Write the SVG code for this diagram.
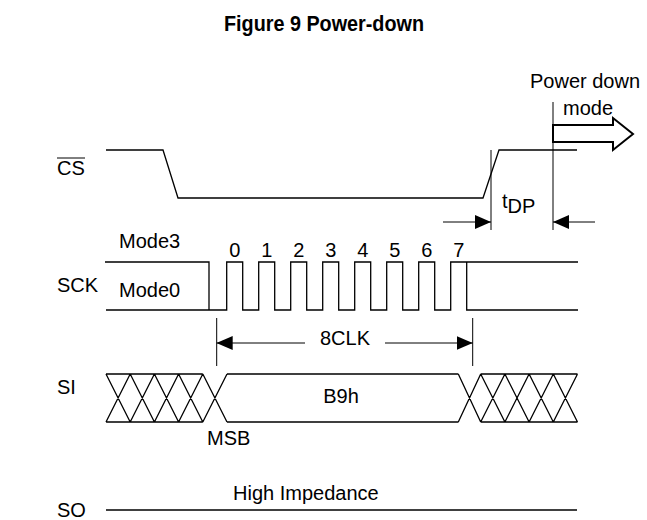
<svg xmlns="http://www.w3.org/2000/svg" width="647" height="520" viewBox="0 0 647 520">
<style>
text{font-family:"Liberation Sans",Arial,sans-serif;font-size:20px;fill:#000}
.w{fill:none;stroke:#000;stroke-width:1.3}
.thin{fill:none;stroke:#000;stroke-width:1}
.title{font-weight:bold;font-size:22px}
</style>
<defs>
<marker id="ah" viewBox="0 0 16 14" refX="16" refY="7" markerWidth="16" markerHeight="14" markerUnits="userSpaceOnUse" orient="auto">
<path d="M0,0 L16,7 L0,14 Z" fill="#000"/>
</marker>
</defs>
<rect width="647" height="520" fill="#fff"/>
<text class="title" x="224" y="31" textLength="200" lengthAdjust="spacingAndGlyphs">Figure 9 Power-down</text>

<g id="labels">
<text x="57" y="175">CS</text>
<line x1="57" y1="158" x2="85" y2="158" class="thin"/>
<text x="57" y="292">SCK</text>
<text x="57" y="394">SI</text>
<text x="57" y="517">SO</text>
</g>

<g id="cs">
<path class="w" d="M106,150 H163 L178,198 H483 L499,150 H577"/>
</g>

<g id="sck">
<path class="w" d="M105,262 H209 V310 M106,310 H226.7 V262 H242.7 V310 H258.7 V262 H274.7 V310 H290.7 V262 H306.7 V310 H322.7 V262 H338.7 V310 H354.7 V262 H370.7 V310 H386.7 V262 H402.7 V310 H418.7 V262 H434.7 V310 H450.7 V262 H466.7 V310 H578 M466.7,262 H578"/>
<text x="119" y="248">Mode3</text>
<text x="119" y="297">Mode0</text>
<g text-anchor="middle" style="font-size:18px">
<text x="234.7" y="257">0</text>
<text x="266.7" y="257">1</text>
<text x="298.7" y="257">2</text>
<text x="330.7" y="257">3</text>
<text x="362.7" y="257">4</text>
<text x="394.7" y="257">5</text>
<text x="426.7" y="257">6</text>
<text x="458.7" y="257">7</text>
</g>
</g>

<g id="si">
<path class="w" d="M106,374 H202.8 M106,422 H202.8
M106,374 L130.2,422 M106,422 L130.2,374
M130.2,374 L154.4,422 M130.2,422 L154.4,374
M154.4,374 L178.6,422 M154.4,422 L178.6,374
M178.6,374 L202.8,422 M178.6,422 L202.8,374
M202.8,374 L227,422 M202.8,422 L227,374
M227,374 H458.3 M227,422 H458.3
M458.3,374 L480.7,422 M458.3,422 L480.7,374
M480.7,374 H577.5 M480.7,422 H577.5
M480.7,374 L504.9,422 M480.7,422 L504.9,374
M504.9,374 L529.1,422 M504.9,422 L529.1,374
M529.1,374 L553.3,422 M529.1,422 L553.3,374
M553.3,374 L577.5,422 M553.3,422 L577.5,374"/>
<text x="341" y="403" text-anchor="middle">B9h</text>
<text x="207" y="445">MSB</text>
</g>

<g id="so">
<line class="w" x1="106" y1="510" x2="577" y2="510"/>
<text x="233" y="500">High Impedance</text>
</g>

<g id="pd">
<text x="530" y="88">Power down</text>
<text x="563" y="115">mode</text>
<polygon points="553,125 613,125 613,118 633,134 613,150 613,142 553,142" fill="#fff" stroke="#000" stroke-width="2"/>
<text x="502" y="208">t<tspan dy="5">DP</tspan></text>
</g>

<g id="connectors">
<line class="thin" x1="491" y1="150" x2="491" y2="230"/>
<line class="thin" x1="553" y1="102" x2="553" y2="230"/>
<line class="thin" x1="443" y1="222" x2="491" y2="222" marker-end="url(#ah)"/>
<line class="thin" x1="595" y1="222" x2="553" y2="222" marker-end="url(#ah)"/>
<line class="thin" x1="216.7" y1="318" x2="216.7" y2="366"/>
<line class="thin" x1="472.7" y1="318" x2="472.7" y2="366"/>
<line class="thin" x1="305" y1="343" x2="216.7" y2="343" marker-end="url(#ah)"/>
<line class="thin" x1="385" y1="343" x2="472.7" y2="343" marker-end="url(#ah)"/>
<text x="345" y="345" text-anchor="middle">8CLK</text>
</g>
</svg>
